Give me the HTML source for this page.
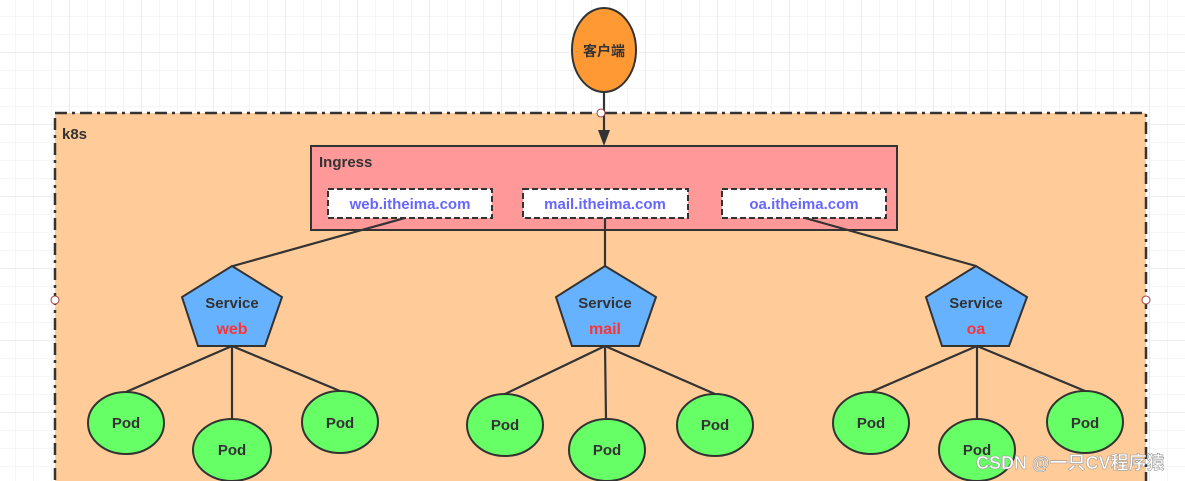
<!DOCTYPE html>
<html><head><meta charset="utf-8"><style>
html,body{margin:0;padding:0;background:#fff;}
svg{display:block;}
text{font-family:"Liberation Sans","Noto Sans CJK SC",sans-serif;font-weight:bold;}
</style></head><body>
<svg width="1185" height="481" viewBox="0 0 1185 481" xmlns="http://www.w3.org/2000/svg">
<defs>
<pattern id="g" x="-3" y="-2" width="18" height="18" patternUnits="userSpaceOnUse">
<path d="M0 0H18M0 0V18" stroke="#ececec" stroke-width="1" fill="none"/>
</pattern>
<pattern id="G" x="-3" y="-20" width="72" height="72" patternUnits="userSpaceOnUse">
<path d="M0 0H72M0 0V72" stroke="#e2e2e2" stroke-width="1.3" fill="none"/>
</pattern>
</defs>
<rect width="1185" height="481" fill="url(#g)"/>
<rect width="1185" height="481" fill="url(#G)"/>
<rect x="55" y="113" width="1091" height="380" fill="#FFCC99" stroke="#333" stroke-width="2.5" stroke-dasharray="12 5 3 5"/>
<text x="62" y="139" font-size="15" fill="#333">k8s</text>
<rect x="311" y="146" width="586" height="84" fill="#FF9999" stroke="#333" stroke-width="2"/>
<text x="319" y="167" font-size="15" fill="#333">Ingress</text>
<g stroke="#333" stroke-width="2" stroke-dasharray="6 3" fill="#fff">
<rect x="328" y="189" width="164" height="29"/>
<rect x="523" y="189" width="165" height="29"/>
<rect x="722" y="189" width="164" height="29"/>
</g>
<g font-size="15" fill="#6666FF" text-anchor="middle">
<text x="410" y="209">web.itheima.com</text>
<text x="605" y="209">mail.itheima.com</text>
<text x="804" y="209">oa.itheima.com</text>
</g>
<g stroke="#333" stroke-width="2.2" fill="none">
<line x1="604" y1="92" x2="604" y2="132"/>
<line x1="405" y1="218" x2="233" y2="266"/>
<line x1="605" y1="218" x2="605" y2="266"/>
<line x1="805" y1="218" x2="976" y2="266"/>
<path d="M232 346L126 392M232 346V419M232 346L340 391"/>
<path d="M605 346L505 394M605 346L606 419M605 346L715 394"/>
<path d="M977 346L871 392M977 346V419M977 346L1085 391"/>
</g>
<polygon points="598,130 610,130 604,146" fill="#333"/>
<ellipse cx="604" cy="50" rx="32" ry="42" fill="#FF9933" stroke="#333" stroke-width="2"/>
<text x="604" y="56" font-size="14" fill="#333" text-anchor="middle" font-weight="normal">客户端</text>
<g fill="#66B2FF" stroke="#333" stroke-width="2">
<polygon points="232,266 282,297 265,346 198,346 182,297"/>
<polygon points="605,266 656,297 639,346 572,346 556,297"/>
<polygon points="976,266 1027,297 1009,346 942,346 926,297"/>
</g>
<g font-size="15" text-anchor="middle">
<text x="232" y="308" fill="#333">Service</text><text x="232" y="334" fill="#FF3333" font-size="16">web</text>
<text x="605" y="308" fill="#333">Service</text><text x="605" y="334" fill="#FF3333" font-size="16">mail</text>
<text x="976" y="308" fill="#333">Service</text><text x="976" y="334" fill="#FF3333" font-size="16">oa</text>
</g>
<g fill="#66FF66" stroke="#333" stroke-width="2">
<ellipse cx="126" cy="423" rx="38" ry="31"/><ellipse cx="232" cy="450" rx="39" ry="31"/><ellipse cx="340" cy="422" rx="38" ry="31"/>
<ellipse cx="505" cy="425" rx="38" ry="31"/><ellipse cx="607" cy="450" rx="38" ry="31"/><ellipse cx="715" cy="425" rx="38" ry="31"/>
<ellipse cx="871" cy="423" rx="38" ry="31"/><ellipse cx="977" cy="450" rx="38" ry="31"/><ellipse cx="1085" cy="422" rx="38" ry="31"/>
</g>
<g font-size="15" fill="#333" text-anchor="middle">
<text x="126" y="428">Pod</text><text x="232" y="455">Pod</text><text x="340" y="428">Pod</text>
<text x="505" y="430">Pod</text><text x="607" y="455">Pod</text><text x="715" y="430">Pod</text>
<text x="871" y="428">Pod</text><text x="977" y="455">Pod</text><text x="1085" y="428">Pod</text>
</g>
<g fill="#fff" stroke="#a04040" stroke-width="1">
<circle cx="601" cy="113" r="4"/><circle cx="55" cy="300" r="4"/><circle cx="1146" cy="300" r="4"/>
</g>
<text x="976" y="469" font-size="18" fill="#fff" stroke="#999" stroke-width="0.6" font-weight="normal">CSDN @一只CV程序猿</text>
</svg>
</body></html>
